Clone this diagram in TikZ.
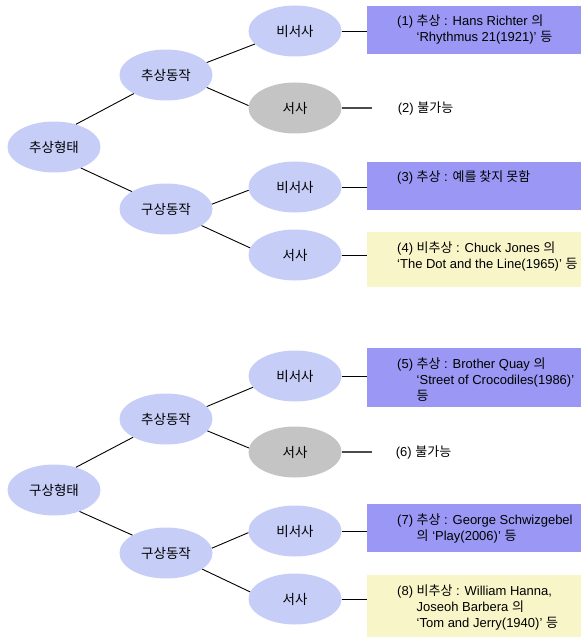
\documentclass[tikz,border=0pt]{standalone}
\usepackage{fontspec}
\setmainfont{Liberation Sans}
\newfontfamily\kr{Noto Sans CJK KR}
\usetikzlibrary{shapes.geometric}
\definecolor{ellblue}{HTML}{C6CEF8}
\definecolor{boxpurple}{HTML}{9A98F4}
\definecolor{boxyellow}{HTML}{F8F5C9}
\definecolor{ellgray}{HTML}{C4C4C4}
\newcommand\hg[1]{{\kr #1}}
\begin{document}
\begin{tikzpicture}[x=1pt,y=-1pt,
  oval/.style={ellipse, fill=ellblue, minimum width=93pt, minimum height=51pt, inner sep=0pt, font=\kr\fontsize{13.5}{16}\selectfont},
  ovalgray/.style={oval, fill=ellgray},
  note/.style={rectangle, minimum width=214pt, inner sep=0pt, anchor=north west},
  notetext/.style={anchor=base west, inner sep=0pt, font=\fontsize{13}{16}\selectfont},
  link/.style={line width=0.9pt, black},
  endlink/.style={line width=1.3pt, black!70}]
\path[use as bounding box] (0,0) rectangle (587,644);

% ---------- top tree ----------
\node[oval] (a0) at (54,147) {추상형태};
\node[oval] (a1) at (166,75) {추상동작};
\node[oval] (a2) at (166,209) {구상동작};
\node[oval] (a11) at (295,31) {비서사};
\node[ovalgray] (a12) at (295,108) {서사};
\node[oval] (a21) at (295,187) {비서사};
\node[oval] (a22) at (295,255) {서사};

\draw[link] (a0.46) -- (a1.210);
\draw[link] (a0.-38) -- (a2.153);
\draw[link] (a1.17) -- (a11.198);
\draw[link] (a1.-17) -- (a12.177);
\draw[link] (a2.6) -- (a21.184);
\draw[link] (a2.-25) -- (a22.171);

\node[note, fill=boxpurple, minimum height=48pt] (n1) at (367,6) {};
\node[note, fill=boxpurple, minimum height=48pt] (n3) at (367,162) {};
\node[note, fill=boxyellow, minimum height=55pt] (n4) at (367,232) {};

\node[notetext] (t1) at ([shift={(30,20)}]n1.north west) {\begin{tabular}[t]{@{}l@{}}(1) \hg{추상} : Hans Richter \hg{의}\\\phantom{(1) }‘Rhythmus 21(1921)’ \hg{등}\end{tabular}};
\node[notetext] (t3) at ([shift={(30,20)}]n3.north west) {(3) \hg{추상} : \hg{예를 찾지 못함}};
\node[notetext] (t4) at ([shift={(30,20)}]n4.north west) {\begin{tabular}[t]{@{}l@{}}(4) \hg{비추상} : Chuck Jones \hg{의}\\‘The Dot and the Line(1965)’ \hg{등}\end{tabular}};

\draw[link] (a11.east) -- (a11.east -| n1.west);
\draw[link] (a21.east) -- (a21.east -| n3.west);
\draw[link] (a22.east) -- (a22.east -| n4.west);
\coordinate (e2) at ([xshift=30pt]a12.east);
\draw[endlink] (a12.east) -- (e2);
\node[notetext, anchor=west] (t2) at ([xshift=26pt]e2) {(2) \hg{불가능}};

% ---------- bottom tree ----------
\node[oval] (b0) at (54,490) {구상형태};
\node[oval] (b1) at (166,419) {추상동작};
\node[oval] (b2) at (166,553) {구상동작};
\node[oval] (b11) at (295,376) {비서사};
\node[ovalgray] (b12) at (295,452) {서사};
\node[oval] (b21) at (295,531) {비서사};
\node[oval] (b22) at (295,599) {서사};

\draw[link] (b0.46) -- (b1.209);
\draw[link] (b0.-40) -- (b2.152);
\draw[link] (b1.17) -- (b11.195);
\draw[link] (b1.-16) -- (b12.175);
\draw[link] (b2.6) -- (b21.182);
\draw[link] (b2.-24) -- (b22.171);

\node[note, fill=boxpurple, minimum height=59pt] (n5) at (367,348) {};
\node[note, fill=boxpurple, minimum height=48pt] (n7) at (367,504) {};
\node[note, fill=boxyellow, minimum height=62pt] (n8) at (367,575) {};

\node[notetext] (t5) at ([shift={(30,20)}]n5.north west) {\begin{tabular}[t]{@{}l@{}}(5) \hg{추상} : Brother Quay \hg{의}\\\phantom{(5) }‘Street of Crocodiles(1986)’\\\phantom{(5) }\hg{등}\end{tabular}};
\node[notetext] (t7) at ([shift={(30,20)}]n7.north west) {\begin{tabular}[t]{@{}l@{}}(7) \hg{추상} : George Schwizgebel\\\phantom{(7) }\hg{의} ‘Play(2006)’ \hg{등}\end{tabular}};
\node[notetext] (t8) at ([shift={(30,20)}]n8.north west) {\begin{tabular}[t]{@{}l@{}}(8) \hg{비추상} : William Hanna,\\\phantom{(8) }Joseoh Barbera \hg{의}\\\phantom{(8) }‘Tom and Jerry(1940)’ \hg{등}\end{tabular}};

\draw[link] (b11.east) -- (b11.east -| n5.west);
\draw[link] (b21.east) -- (b21.east -| n7.west);
\draw[link] (b22.east) -- (b22.east -| n8.west);
\coordinate (e6) at ([xshift=30pt]b12.east);
\draw[endlink] (b12.east) -- (e6);
\node[notetext, anchor=west] (t6) at ([xshift=24pt]e6) {(6) \hg{불가능}};
\end{tikzpicture}
\end{document}
